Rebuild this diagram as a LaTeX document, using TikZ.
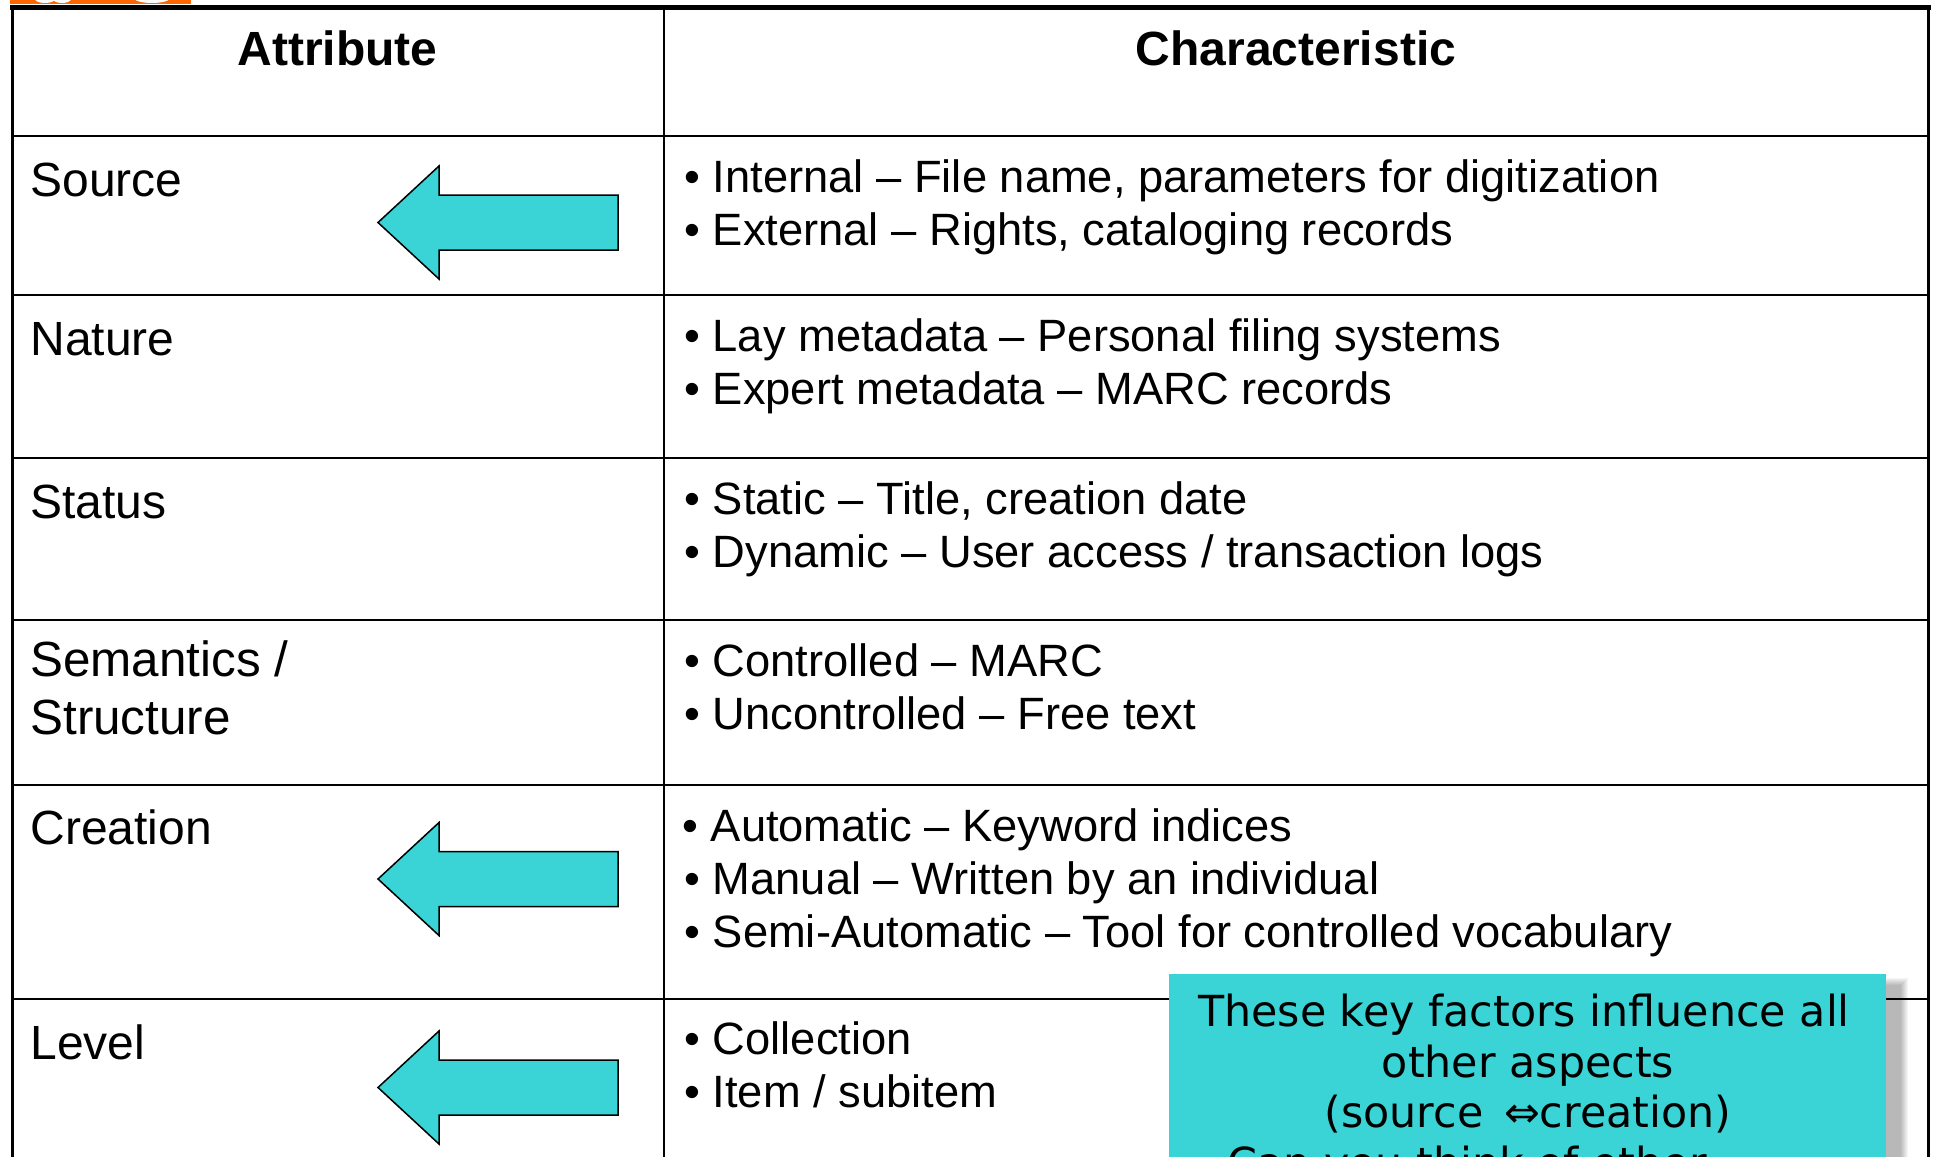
\documentclass[tikz,border=0pt]{standalone}
\usepackage{fontspec}
\setmainfont{Liberation Sans}
\newfontfamily\calloutfont{DejaVu Sans}
\definecolor{turq}{RGB}{58,212,214}
\definecolor{logoorange}{RGB}{255,102,0}

\tikzset{
  headtext/.style={anchor=base, inner sep=0pt, font=\fontsize{24pt}{28pt}\selectfont\bfseries},
  attrtext/.style={anchor=base west, inner sep=0pt, font=\fontsize{24pt}{28.5pt}\selectfont, align=left},
  semtext/.style={anchor=base west, inner sep=0pt, font=\fontsize{24.7pt}{29pt}\selectfont},
  itemtext/.style={anchor=base west, inner sep=0pt, font=\fontsize{22.65pt}{27pt}\selectfont},
  notetext/.style={anchor=base, inner sep=0pt, font=\calloutfont\fontsize{21.4pt}{25.5pt}\selectfont},
  frame/.style={line width=1.5pt, black},
  rule/.style={line width=1pt, black},
  leftarrow/.pic={
    \draw[fill=turq, line width=0.75pt, line join=miter]
      (0,0) -- (61,-56.5) -- (61,-27.5) -- (240,-27.5) -- (240,27.5)
      -- (61,27.5) -- (61,56.5) -- cycle;
  }
}

\begin{document}
\begin{tikzpicture}[x=0.5pt, y=-0.5pt]
\useasboundingbox (0,0) rectangle (1934,1157);
\clip (0,0) rectangle (1934,1157);

% logo fragment at the top edge
\fill[logoorange] (10,0) rectangle (191,4);
\fill[white] (45,-1) ellipse [x radius=10, y radius=4];
\fill[white] (62,-1) ellipse [x radius=9, y radius=4];
\fill[white] (152,-2) ellipse [x radius=18, y radius=5];

% table grid
\draw[line width=2.5pt] (10,7.5) -- (1931,7.5);
\draw[frame] (12,6) -- (12,1160);
\draw[frame] (1928,6) -- (1928,1160);
\draw[rule] (664,8) -- (664,1160);
\draw[line width=1.25pt] (12,136) -- (1928,136);
\foreach \yy in {295,458,620,785,999}
  \draw[rule] (12,\yy) -- (1928,\yy);

% header
\node (hattr) [headtext] at (337.5,65) {Attribute};
\node (hchar) [headtext] at (1296,65) {Characteristic};

% attribute column
\node (asource) [attrtext] at (30,196) {Source};
\node (anature) [attrtext] at (30,355) {Nature};
\node (astatus) [attrtext] at (30,518) {Status};
\node (asem1)   [semtext]  at (30,676) {Semantics /};
\node (asem2)   [semtext]  at (30,734) {Structure};
\node (acreate) [attrtext] at (30,844) {Creation};
\node (alevel)  [attrtext] at (30,1059) {Level};

% characteristic column
\node (s1) [itemtext] at (684,192) {• Internal – File name, parameters for digitization};
\node (s2) [itemtext] at (684,245) {• External – Rights, cataloging records};
\node (n1) [itemtext] at (684,351) {• Lay metadata – Personal filing systems};
\node (n2) [itemtext] at (684,404) {• Expert metadata – MARC records};
\node (t1) [itemtext] at (684,514) {• Static – Title, creation date};
\node (t2) [itemtext] at (684,567) {• Dynamic – User access / transaction logs};
\node (m1) [itemtext] at (684,676) {• Controlled – MARC};
\node (m2) [itemtext] at (684,729) {• Uncontrolled – Free text};
\node (c1) [itemtext] at (682,841) {• Automatic – Keyword indices};
\node (c2) [itemtext] at (684,894) {• Manual – Written by an individual};
\node (c3) [itemtext] at (684,947) {• Semi-Automatic – Tool for controlled vocabulary};
\node (l1) [itemtext] at (684,1054) {• Collection};
\node (l2) [itemtext] at (684,1107) {• Item / subitem};

% arrows pointing at the key attributes
\pic at (378,222.5) {leftarrow};
\pic at (378,879) {leftarrow};
\pic at (378,1087.5) {leftarrow};

% soft shadow of the note
\foreach \i in {0,...,7}
  \fill[black, opacity=0.04] (1173+\i,978+\i) rectangle (1908-\i,1200);

% note box
\fill[turq] (1169,974) rectangle (1886,1200);
\node (note1) [notetext] at (1524,1026) {These key factors influence all};
\node (note2) [notetext] at (1528,1077) {other aspects};
\node (note3) [notetext] at (1528,1127) {(source \,⇔creation)};
\node (note4) [notetext] at (1467,1178) {Can you think of other};
\end{tikzpicture}
\end{document}
